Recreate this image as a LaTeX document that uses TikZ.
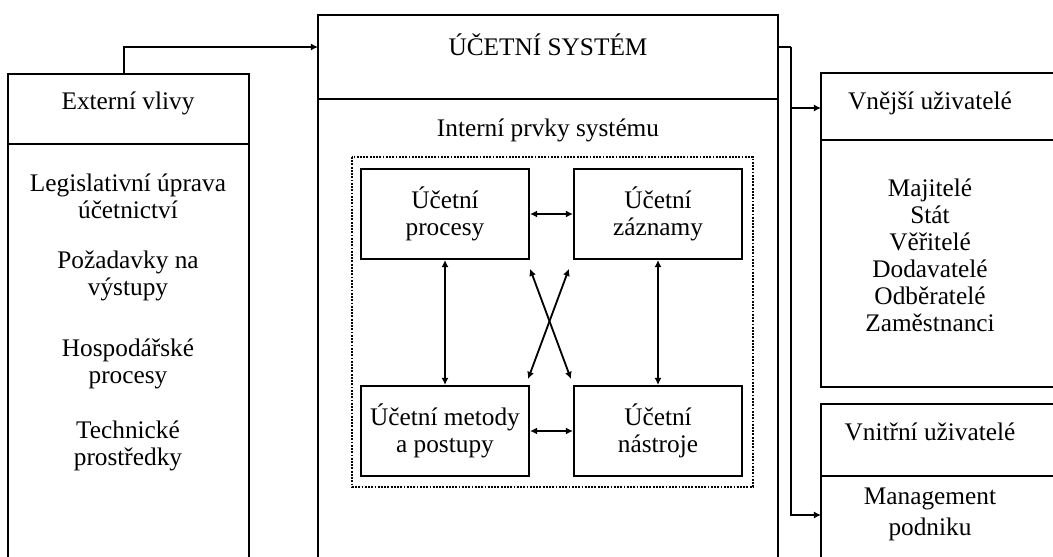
\documentclass[tikz,border=0pt]{standalone}
\usepackage{fontspec}
\setmainfont{Liberation Serif}
\usetikzlibrary{arrows.meta}

\tikzset{
	frame/.style={line width=1.5pt},
	txt/.style={align=center, font=\fontsize{18}{19.2}\selectfont, inner sep=0pt},
	inbox/.style={draw, line width=1.5pt, minimum width=4.2cm, minimum height=2.25cm, align=center, font=\fontsize{18}{19.2}\selectfont},
	link/.style={line width=1.3pt, {Latex[length=5pt,width=5pt]}-{Latex[length=5pt,width=5pt]}},
	feed/.style={line width=1.3pt, -{Latex[length=5pt,width=5pt]}},
}

\begin{document}
\begin{tikzpicture}[x=0.025cm, y=-0.025cm]
	\clip (0,0) rectangle (1053,557);
	% frames
	\coordinate (extTop) at (124,74);
	\coordinate (sysIn) at (318,47);
	\coordinate (sysOut) at (778,47);
	\coordinate (bus) at (791,47);
	\coordinate (vneIn) at (821,108);
	\coordinate (vniIn) at (821,515);
	\draw[frame] (8,557) -- (8,74) -- (249,74) -- (249,557);
	\draw[frame] (8,144) -- (249,144);
	\draw[frame] (318,557) -- (318,15) -- (778,15) -- (778,557);
	\draw[frame] (318,99) -- (778,99);
	\draw[frame] (1053,73) -- (821,73) -- (821,387) -- (1053,387);
	\draw[frame] (821,140) -- (1053,140);
	\draw[frame] (1053,404) -- (821,404) -- (821,557);
	\draw[frame] (821,476) -- (1053,476);
	\draw[line width=1.3pt, densely dotted] (352,157) rectangle (753,487);

	% texts
	\node[txt] (ext) at (128,103) {Externí vlivy};
	\node[txt] (leg) at (128,196) {Legislativní úprava\\účetnictví};
	\node[txt] (poz) at (128,276) {Požadavky na\\výstupy};
	\node[txt] (hos) at (128,364) {Hospodářské\\procesy};
	\node[txt] (tech) at (128,446) {Technické\\prostředky};
	\node[txt] (sys) at (548,45) {ÚČETNÍ SYSTÉM};
	\node[txt] (int) at (548,130) {Interní prvky systému};
	\node[txt] (vne) at (930,103) {Vnější uživatelé};
	\node[txt] (vnelist) at (930,255) {Majitelé\\Stát\\Věřitelé\\Dodavatelé\\Odběratelé\\Zaměstnanci};
	\node[txt] (vni) at (930,432) {Vnitřní uživatelé};
	\node[txt] (man) at (930,514) {Management\\[0.1cm]podniku};

	% inner boxes
	\node[inbox] (pr) at (445,214) {Účetní\\procesy};
	\node[inbox] (za) at (658,214) {Účetní\\záznamy};
	\node[inbox] (me) at (445,431) {Účetní metody\\a postupy};
	\node[inbox] (na) at (658,431) {Účetní\\nástroje};

	% arrows
	\draw[feed] (extTop) |- (sysIn);
	\draw[frame] (sysOut) -- (bus);
	\draw[feed] (bus) |- (vniIn);
	\draw[feed] (bus |- vneIn) -- (vneIn);
	\draw[link] (pr.east) -- (za.west);
	\draw[link] (me.east) -- (na.west);
	\draw[link] (pr.south) -- (me.north);
	\draw[link] (za.south) -- (na.north);
	\draw[link] ([yshift=-0.22cm]pr.south east) -- ([yshift=0.15cm,xshift=-0.05cm]na.north west);
	\draw[link] ([yshift=-0.22cm,xshift=-0.1cm]za.south west) -- ([yshift=0.15cm,xshift=-0.05cm]me.north east);
\end{tikzpicture}
\end{document}
